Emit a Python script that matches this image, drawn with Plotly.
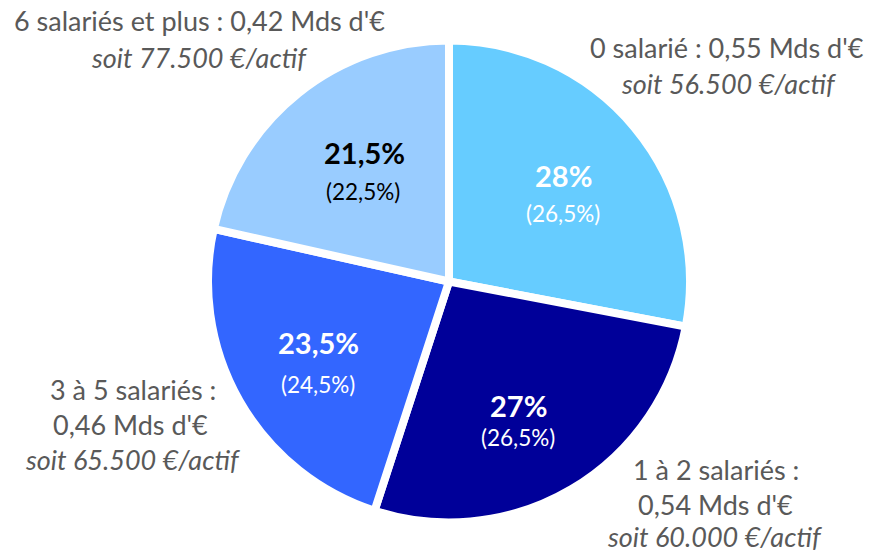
import plotly.graph_objects as go

W, H = 869, 553

# ---- data ----
categories = ["0 salarié", "1 à 2 salariés", "3 à 5 salariés", "6 salariés et plus"]
shares = [28, 27, 23.5, 21.5]
share_labels = ["28%", "27%", "23,5%", "21,5%"]
prev_labels = ["(26,5%)", "(26,5%)", "(24,5%)", "(22,5%)"]
amounts = ["0,55 Mds d'€", "0,54 Mds d'€", "0,46 Mds d'€", "0,42 Mds d'€"]
per_actif = ["soit 56.500 €/actif", "soit 60.000 €/actif", "soit 65.500 €/actif", "soit 77.500 €/actif"]

colors = ["#66CCFF", "#000099", "#3366FF", "#99CCFF"]
inner_text_colors = ["white", "white", "white", "black"]

FONT = "Lato, Calibri, Carlito, 'Open Sans', sans-serif"
GREY = "#595959"

fig = go.Figure(go.Pie(
    labels=categories,
    values=shares,
    sort=False,
    direction="clockwise",
    rotation=0,
    marker=dict(colors=colors, line=dict(color="white", width=8)),
    textinfo="none",
    hoverinfo="label+percent",
    domain=dict(x=[208 / W, 690 / W], y=[30.5 / H, 512.5 / H]),
    showlegend=False,
))

def px(x, y):
    return x / W, 1 - y / H

annotations = []

# inner labels (positions in pixels: big-label center, small-label center)
inner_pos = [((563, 175), (563, 214)),
             ((518, 405), (518, 437)),
             ((318, 342), (318, 384)),
             ((364, 152), (363, 191))]
for i in range(len(categories)):
    (x1, y1), (x2, y2) = inner_pos[i]
    ax, ay = px(x1, y1)
    annotations.append(dict(x=ax, y=ay, text="<b>" + share_labels[i] + "</b>",
                            font=dict(family=FONT, size=29, color=inner_text_colors[i])))
    ax, ay = px(x2, y2)
    annotations.append(dict(x=ax, y=ay, text=prev_labels[i],
                            font=dict(family=FONT, size=22.5, color=inner_text_colors[i])))

# outer labels
outer_lines = [
    [(categories[0] + " : " + amounts[0], 727, 48, False), (per_actif[0], 728, 83, True)],
    [(categories[1] + " :", 716, 469, False), (amounts[1], 715, 504, False), (per_actif[1], 714, 536, True)],
    [(categories[2] + " :", 133, 389, False), (amounts[2], 130, 424, False), (per_actif[2], 132, 459, True)],
    [(categories[3] + " : " + amounts[3], 199, 20, False), (per_actif[3], 199, 57, True)],
]
for block in outer_lines:
    for txt, x, y, ital in block:
        ax, ay = px(x, y)
        annotations.append(dict(x=ax, y=ay, text=("<i>" + txt + "</i>") if ital else txt,
                                font=dict(family=FONT, size=27, color=GREY)))

for a in annotations:
    a.update(xref="paper", yref="paper", xanchor="center", yanchor="middle", showarrow=False)

fig.update_layout(
    width=W, height=H,
    margin=dict(l=0, r=0, t=0, b=0),
    paper_bgcolor="white",
    plot_bgcolor="white",
    annotations=annotations,
)

fig.write_html("out.html", config={"displayModeBar": False},
               post_script="document.body.style.margin='0';document.body.style.overflow='hidden';")
